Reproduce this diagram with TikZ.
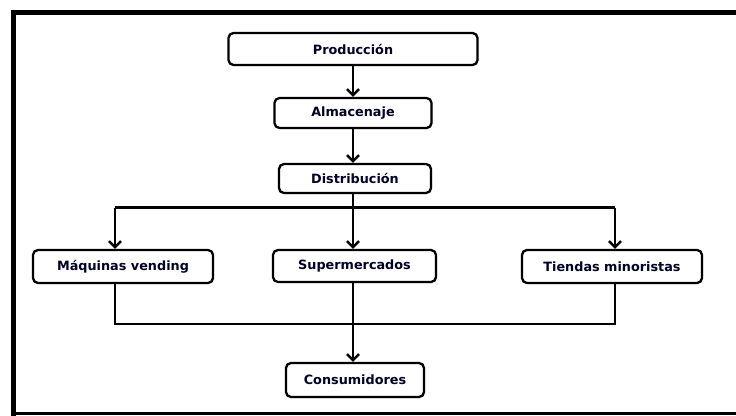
\documentclass[tikz,border=0pt]{standalone}
\usepackage{fontspec}
\setmainfont{DejaVu Sans}
\usetikzlibrary{arrows.meta,shadows}
\begin{document}
\begin{tikzpicture}[x=1pt,y=-1pt,
  stepbox/.style={draw=black, line width=2.3pt, rounded corners=5pt, fill=white,
    inner sep=0pt, font=\fontsize{12.8pt}{15pt}\selectfont\bfseries, text=black!85!blue,
    drop shadow={opacity=0.25, shadow xshift=1pt, shadow yshift=-1pt}},
  conn/.style={draw=black, line width=2.5pt},
  arr/.style={conn, -{Straight Barb[length=6pt,width=12pt,line width=2.5pt]}},
  framel/.style={draw=black, line cap=rect}
]
\useasboundingbox (0,0) rectangle (736,415);
% frame
\draw[framel, line width=5pt] (13.5,415) -- (13.5,12) -- (740,12);
\draw[framel, line width=3pt] (13.5,413.5) -- (740,413.5);

% nodes
\node[stepbox, minimum width=249pt, minimum height=32pt] (prod) at (353,49) {Producción};
\node[stepbox, minimum width=157pt, minimum height=30pt] (alm) at (353,113) {Almacenaje};
\node[stepbox, minimum width=152pt, minimum height=29pt] (dist) at (355,178.5) {Distribución};
\node[stepbox, minimum width=180pt, minimum height=33pt] (maq) at (123,266.5) {Máquinas vending};
\node[stepbox, minimum width=163pt, minimum height=32pt] (sup) at (354.5,266) {Supermercados};
\node[stepbox, minimum width=180pt, minimum height=33pt] (tie) at (612,266.5) {Tiendas minoristas};
\node[stepbox, minimum width=138pt, minimum height=34pt] (cons) at (355,380) {Consumidores};

\coordinate (bl) at (115,207.5);
\coordinate (br) at (615,207.5);
\coordinate (ml) at (115,324);
\coordinate (mr) at (615,324);
\coordinate (top) at (353,0);

% connectors
\draw[arr] (prod.south -| top) -- (alm.north -| top);
\draw[arr] (alm.south -| top) -- (dist.north -| top);
\draw[arr] (dist.south -| top) -- (sup.north -| top);
\draw[conn] (bl) -- (br);
\draw[arr] (bl) -- (bl |- maq.north);
\draw[arr] (br) -- (br |- tie.north);
\draw[conn] (maq.south -| ml) -- (ml) -- (mr) -- (tie.south -| mr);
\draw[arr] (sup.south -| top) -- (cons.north -| top);
\end{tikzpicture}
\end{document}
